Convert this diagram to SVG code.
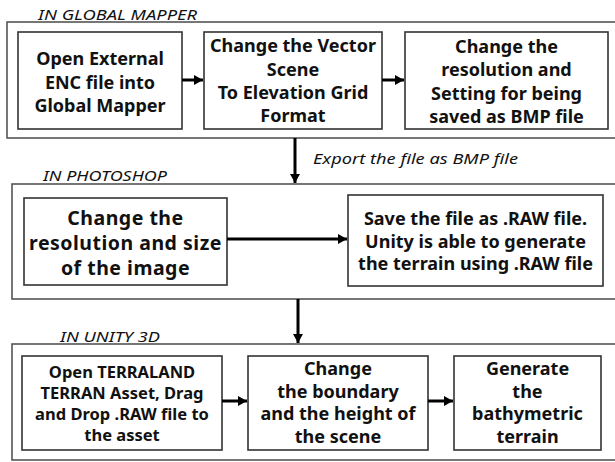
<svg xmlns="http://www.w3.org/2000/svg" width="615" height="462" viewBox="0 0 615 462">
<style>
.panel{fill:#fff;stroke:#555;stroke-width:1.6}
.box{fill:#fff;stroke:#333;stroke-width:1.6}
.t{font-family:"Noto Sans","Liberation Sans",sans-serif;font-weight:bold;fill:#111;text-anchor:middle}
.title{font-family:"Noto Sans","Liberation Sans",sans-serif;font-style:italic;fill:#111;font-size:14px}
.conn{stroke:#000;stroke-width:3;fill:none}
</style>
<defs>
<marker id="ah" markerUnits="userSpaceOnUse" markerWidth="10" markerHeight="12" refX="9" refY="6" orient="auto">
<path d="M0,1 L9,6 L0,11 Z" fill="#000"/>
</marker>
</defs>
<rect width="615" height="462" fill="#fff"/>
<g id="panel-global-mapper">
<rect class="panel" x="7" y="22" width="620" height="116"/>
<text class="title" x="38" y="20" textLength="159" lengthAdjust="spacingAndGlyphs">IN GLOBAL MAPPER</text>
</g>
<g id="panel-photoshop">
<rect class="panel" x="12" y="184" width="615" height="115"/>
<text class="title" x="43" y="181" textLength="124" lengthAdjust="spacingAndGlyphs">IN PHOTOSHOP</text>
</g>
<g id="panel-unity">
<rect class="panel" x="12" y="344" width="615" height="116"/>
<text class="title" x="60" y="342" textLength="100" lengthAdjust="spacingAndGlyphs">IN UNITY 3D</text>
</g>
<g id="n1">
<rect class="box" x="18" y="32" width="164" height="97"/>
<text class="t" font-size="18"><tspan x="100" y="65">Open External</tspan><tspan x="100" y="88.5">ENC file into</tspan><tspan x="100" y="112">Global Mapper</tspan></text>
</g>
<g id="n2">
<rect class="box" x="204" y="32" width="178" height="97"/>
<text class="t" font-size="18"><tspan x="293" y="52">Change the Vector</tspan><tspan x="293" y="75.5">Scene</tspan><tspan x="293" y="99">To Elevation Grid</tspan><tspan x="293" y="122">Format</tspan></text>
</g>
<g id="n3">
<rect class="box" x="405" y="32" width="203" height="97"/>
<text class="t" font-size="18"><tspan x="506.5" y="53">Change the</tspan><tspan x="506.5" y="76">resolution and</tspan><tspan x="506.5" y="99.5">Setting for being</tspan><tspan x="506.5" y="123">saved as BMP file</tspan></text>
</g>
<g id="n4">
<rect class="box" x="24" y="198" width="203" height="87"/>
<text class="t" font-size="19.5" letter-spacing="0.5"><tspan x="125.5" y="225">Change the</tspan><tspan x="125.5" y="250">resolution and size</tspan><tspan x="125.5" y="275">of the image</tspan></text>
</g>
<g id="n5">
<rect class="box" x="348" y="195" width="255" height="91"/>
<text class="t" font-size="18"><tspan x="475.5" y="225">Save the file as .RAW file.</tspan><tspan x="475.5" y="247.5">Unity is able to generate</tspan><tspan x="475.5" y="270">the terrain using .RAW file</tspan></text>
</g>
<g id="n6">
<rect class="box" x="22" y="356" width="200" height="94"/>
<text class="t" font-size="16.5"><tspan x="122" y="378">Open TERRALAND</tspan><tspan x="122" y="399">TERRAN Asset, Drag</tspan><tspan x="122" y="420">and Drop .RAW file to</tspan><tspan x="122" y="441">the asset</tspan></text>
</g>
<g id="n7">
<rect class="box" x="248" y="356" width="180" height="94"/>
<text class="t" font-size="18"><tspan x="338" y="375">Change</tspan><tspan x="338" y="397.5">the boundary</tspan><tspan x="338" y="420">and the height of</tspan><tspan x="338" y="443">the scene</tspan></text>
</g>
<g id="n8">
<rect class="box" x="454" y="356" width="147" height="94"/>
<text class="t" font-size="18"><tspan x="527.5" y="375">Generate</tspan><tspan x="527.5" y="397.5">the</tspan><tspan x="527.5" y="420">bathymetric</tspan><tspan x="527.5" y="443">terrain</tspan></text>
</g>
<g id="connectors">
<line class="conn" x1="182" y1="80" x2="203" y2="80" marker-end="url(#ah)"/>
<line class="conn" x1="382" y1="80" x2="404" y2="80" marker-end="url(#ah)"/>
<line class="conn" x1="295" y1="138" x2="295" y2="183" marker-end="url(#ah)"/>
<text class="title" x="313" y="164" font-size="15" textLength="205" lengthAdjust="spacingAndGlyphs">Export the file as BMP file</text>
<line class="conn" x1="227" y1="239" x2="347" y2="239" marker-end="url(#ah)"/>
<line class="conn" x1="298" y1="299" x2="298" y2="343" marker-end="url(#ah)"/>
<line class="conn" x1="222" y1="401" x2="247" y2="401" marker-end="url(#ah)"/>
<line class="conn" x1="428" y1="401" x2="453" y2="401" marker-end="url(#ah)"/>
</g>
</svg>
